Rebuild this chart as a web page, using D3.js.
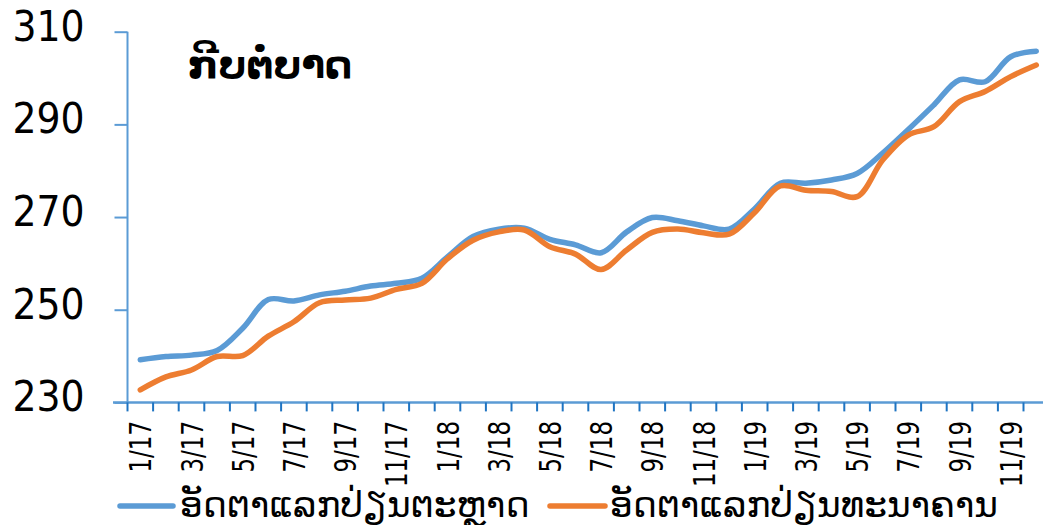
<html><head>
<meta charset="utf-8">
<title>ກີບຕໍ່ບາດ</title>
<style>
body { margin: 0; background: #fff; }
svg { display: block; }
.lbl { font-family: "DejaVu Sans Condensed", "DejaVu Sans", sans-serif; fill: #000; }
.lao { font-family: "DejaVu Sans", sans-serif; fill: #000; }
</style>
<script src="https://d3js.org/d3.v7.min.js"></script>
</head>
<body>
<svg id="chart" width="1043" height="525"></svg>
<script>
// months 1/17 .. 12/19
const months = [
  "1/17","2/17","3/17","4/17","5/17","6/17","7/17","8/17","9/17","10/17","11/17","12/17",
  "1/18","2/18","3/18","4/18","5/18","6/18","7/18","8/18","9/18","10/18","11/18","12/18",
  "1/19","2/19","3/19","4/19","5/19","6/19","7/19","8/19","9/19","10/19","11/19","12/19"
];

// ອັດຕາແລກປ່ຽນຕະຫຼາດ (market rate)
const marketRate = [
  239.2, 239.9, 240.2, 241.2, 246.0, 252.2, 251.9, 253.2, 254.0, 255.1, 255.7, 256.8,
  261.4, 265.8, 267.4, 267.6, 265.2, 264.0, 262.3, 266.8, 269.9, 269.2, 268.1, 267.4,
  271.8, 277.3, 277.3, 278.0, 279.4, 283.8, 288.9, 294.2, 299.6, 299.2, 304.6, 305.8
];

// ອັດຕາແລກປ່ຽນທະນາຄານ (bank rate)
const bankRate = [
  232.7, 235.5, 237.0, 239.9, 240.1, 244.3, 247.4, 251.5, 252.1, 252.5, 254.4, 255.7,
  261.0, 265.0, 266.8, 267.2, 263.6, 262.0, 258.7, 262.9, 266.7, 267.4, 266.6, 266.3,
  271.0, 276.7, 275.8, 275.5, 274.4, 282.3, 287.7, 289.5, 294.9, 297.1, 300.3, 302.8
];

const yTicks = [230, 250, 270, 290, 310];
const seriesNames = ["ອັດຕາແລກປ່ຽນຕະຫຼາດ", "ອັດຕາແລກປ່ຽນທະນາຄານ"];
const colors = ["#5B9BD5", "#ED7D31"];

const svg = d3.select("#chart");

const x = d3.scaleBand().domain(months).range([127.5, 127.5 + 25.6 * months.length]);
const y = d3.scaleLinear().domain([230, 310]).range([402.4, 31.7]);

// y axis
const yAxis = svg.append("g").attr("transform", "translate(127.5,0)")
  .call(d3.axisLeft(y).tickValues(yTicks).tickSize(13).tickPadding(30).tickFormat(d3.format("d")));
yAxis.select(".domain").attr("stroke", "#5B9BD5").attr("stroke-width", 2).attr("d", "M0,31.7V402.4");
yAxis.selectAll(".tick line").attr("stroke", "#5B9BD5").attr("stroke-width", 2);
yAxis.selectAll(".tick text").attr("class", "lbl").style("font-size", "42px")
  .attr("dy", "0.2em").attr("fill", "#000");

// x axis
const xg = svg.append("g");
xg.append("line").attr("x1", 113).attr("x2", 1043).attr("y1", y(230)).attr("y2", y(230))
  .attr("stroke", "#5B9BD5").attr("stroke-width", 2.5);
const edges = months.map(m => x(m)).concat([x.range()[1]]);
xg.selectAll("line.tk").data(edges).join("line").attr("class", "tk")
  .attr("x1", d => d).attr("x2", d => d).attr("y1", y(230)).attr("y2", y(230) + 9)
  .attr("stroke", "#1F74C2").attr("stroke-width", 2);
xg.selectAll("text").data(months.filter((m, i) => i % 2 === 0)).join("text")
  .attr("class", "lbl")
  .style("font-size", "30px")
  .attr("text-anchor", "end")
  .attr("transform", d => `translate(${x(d) + x.bandwidth() / 2 + 11},421) rotate(-90) scale(0.85,1)`)
  .text(d => d);

// lines
const line = d3.line()
  .x((d, i) => x(months[i]) + x.bandwidth() / 2)
  .y(d => y(d))
  .curve(d3.curveCatmullRom.alpha(0.5));

[marketRate, bankRate].forEach((s, k) => {
  svg.append("path").datum(s)
    .attr("d", line)
    .attr("fill", "none")
    .attr("stroke", colors[k])
    .attr("stroke-width", 5.5)
    .attr("stroke-linecap", "round")
    .attr("stroke-linejoin", "round");
});

// title
svg.append("text").attr("class", "lao")
  .attr("x", 188).attr("y", 78)
  .style("font-size", "38.5px").style("font-weight", "bold")
  .text("ກີບຕໍ່ບາດ");

// legend
const legendX = [[120, 173, 180], [550, 605, 610]];
seriesNames.forEach((name, k) => {
  const lg = svg.append("g");
  lg.append("line").attr("x1", legendX[k][0]).attr("x2", legendX[k][1])
    .attr("y1", 506).attr("y2", 506)
    .attr("stroke", colors[k]).attr("stroke-width", 5.5).attr("stroke-linecap", "round");
  lg.append("text").attr("class", "lao")
    .attr("x", legendX[k][2]).attr("y", 517)
    .style("font-size", "36px")
    .text(name);
});
</script>
</body></html>
